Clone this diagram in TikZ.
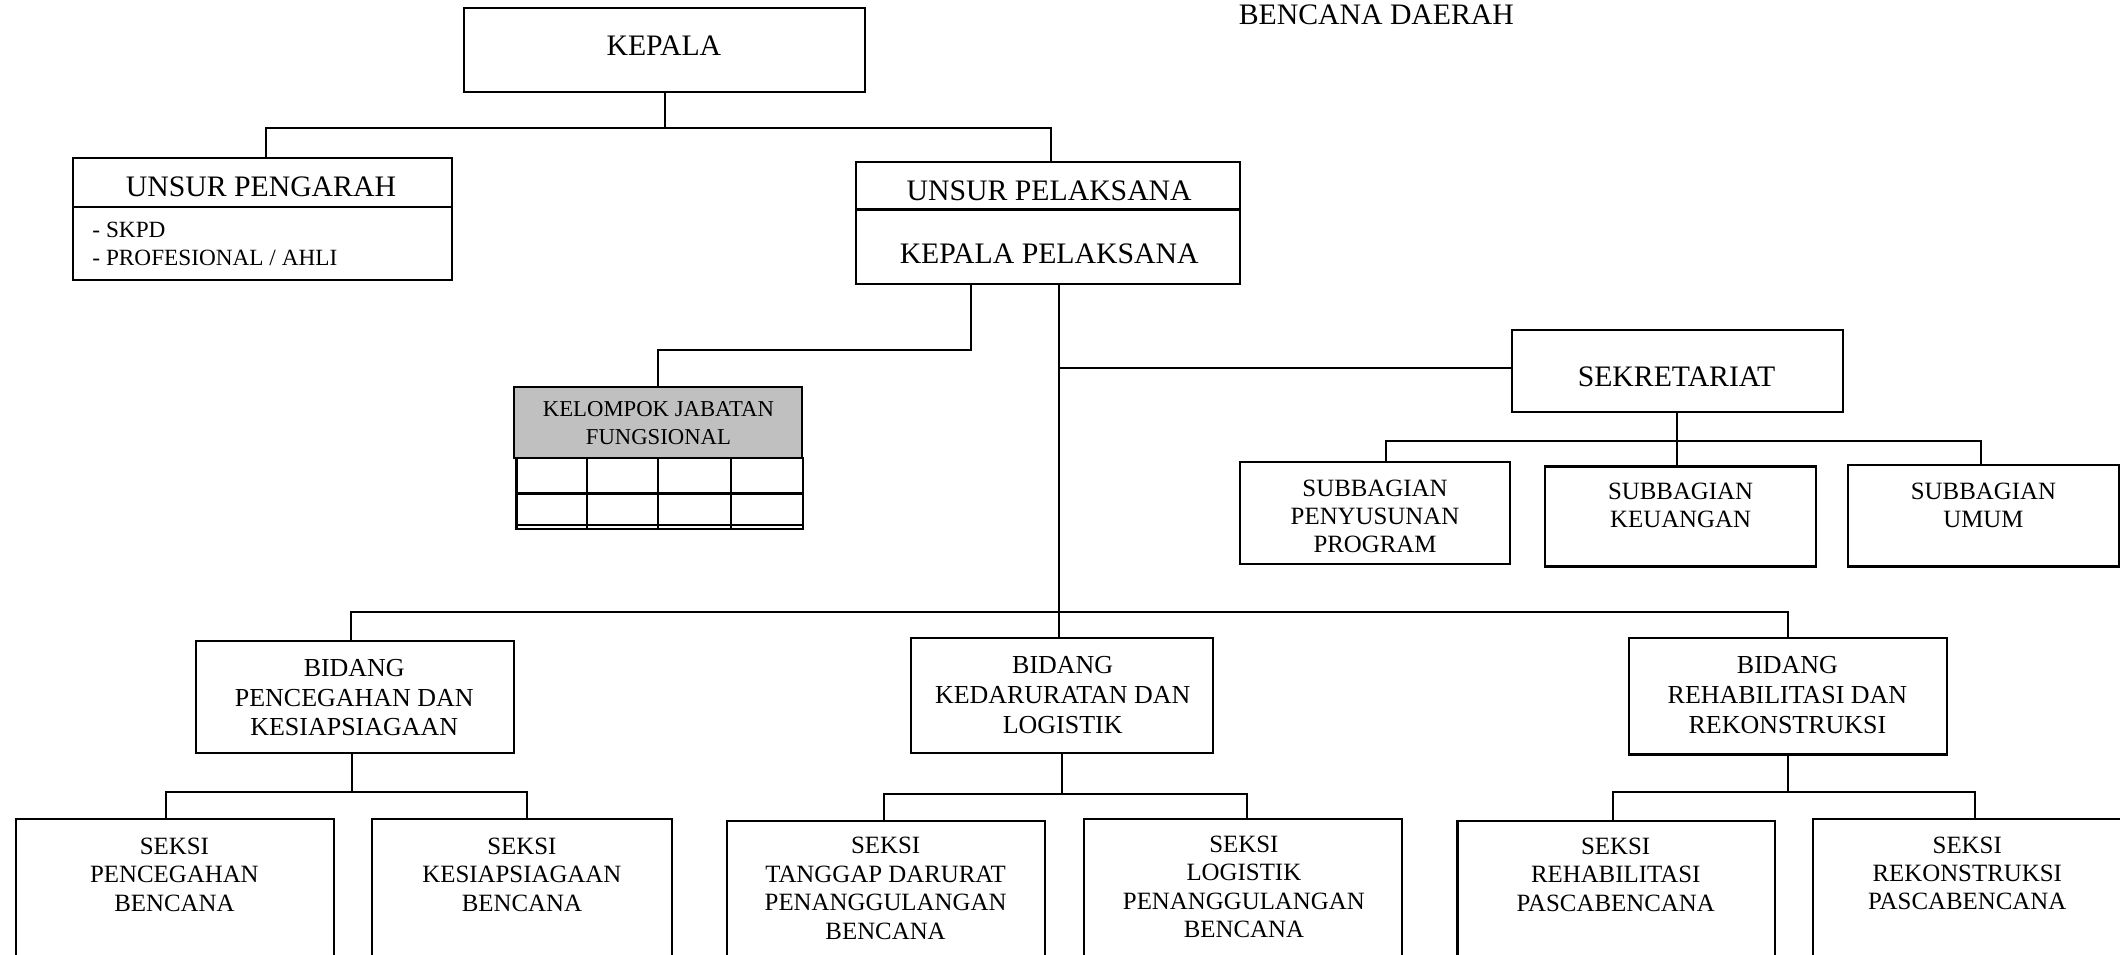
\documentclass[tikz,border=0pt]{standalone}
\usepackage{fontspec}
\setmainfont{Liberation Serif}
\usetikzlibrary{fit,calc}
\definecolor{kgray}{RGB}{192,192,192}
\begin{document}
\begin{tikzpicture}[x=0.5pt,y=-0.5pt,
  box/.style={draw, line width=0.8pt, inner sep=0pt, outer sep=0pt},
  conn/.style={line width=0.75pt},
  tbig/.style={font=\fontsize{11}{13}\selectfont, inner sep=0pt, align=center},
  tmid/.style={font=\fontsize{9.6}{11}\selectfont, inner sep=0pt, align=center},
  tsek/.style={font=\fontsize{9.2}{10.5}\selectfont, inner sep=0pt, align=center},
  tkjf/.style={font=\fontsize{8.4}{10.5}\selectfont, inner sep=0pt, align=center},
  tsmall/.style={font=\fontsize{8.6}{10.5}\selectfont, inner sep=0pt, align=left}]
\fill[white] (0,0) rectangle (1568,706);
\useasboundingbox (0,0) rectangle (1568,706);

% title fragment
\node[tbig] (judul) at (1018,11) {BENCANA DAERAH};

% KEPALA
\node[box, fit={(343,6) (640,68)}] (kepala) {};
\node[tbig] (tkepala) at (491,34) {KEPALA};

% UNSUR PENGARAH
\node[box, fit={(54,117) (334,207)}] (pengarah) {};
\draw[line width=0.8pt] (54,153) -- (334,153);
\node[tbig] (tpengarah) at (193,138) {UNSUR PENGARAH};
\node[tsmall, anchor=west] (skpd) at (68,170) {- SKPD};
\node[tsmall, anchor=west] (prof) at (68,191) {- PROFESIONAL / AHLI};

% UNSUR PELAKSANA
\node[box, fit={(633,120) (917,210)}] (pelaksana) {};
\draw[line width=0.8pt] (633,155) -- (917,155);
\node[tbig] (tunsur) at (776,141) {UNSUR PELAKSANA};
\node[tbig] (tkpel) at (776,188) {KEPALA PELAKSANA};

% KELOMPOK JABATAN FUNGSIONAL
\node[box, fill=kgray, fit={(380,286) (593,339)}] (kjf) {};
\node[tkjf] (tkjf) at (487,313) {KELOMPOK JABATAN\\FUNGSIONAL};
\draw[conn] (382,339) rectangle (594,391);
\draw[conn] (382,365) -- (594,365);
\draw[conn] (382,388) -- (594,388);
\draw[conn] (434,339) -- (434,391);
\draw[conn] (487,339) -- (487,391);
\draw[conn] (541,339) -- (541,391);

% SEKRETARIAT
\node[box, fit={(1118,244) (1363,305)}] (sek) {};
\node[tbig] (tsek) at (1240,279) {SEKRETARIAT};
\node[box, fit={(917,342) (1117,417)}] (sub1) {};
\node[tsek] (tsub1) at (1017,382) {SUBBAGIAN\\PENYUSUNAN\\PROGRAM};
\node[box, fit={(1143,345) (1343,419)}] (sub2) {};
\node[tsek] (tsub2) at (1243,374) {SUBBAGIAN\\KEUANGAN};
\node[box, fit={(1367,344) (1567,419)}] (sub3) {};
\node[tsek] (tsub3) at (1467,374) {SUBBAGIAN\\UMUM};

% BIDANG
\node[box, fit={(145,474) (380,557)}] (bid1) {};
\node[tmid] (tbid1) at (262,516) {BIDANG\\PENCEGAHAN DAN\\KESIAPSIAGAAN};
\node[box, fit={(674,472) (897,557)}] (bid2) {};
\node[tmid] (tbid2) at (786,514) {BIDANG\\KEDARURATAN DAN\\LOGISTIK};
\node[box, fit={(1205,472) (1440,558)}] (bid3) {};
\node[tmid] (tbid3) at (1322,514) {BIDANG\\REHABILITASI DAN\\REKONSTRUKSI};

% SEKSI
\node[box, fit={(12,606) (247,730)}] (s1) {};
\node[tsek] (ts1) at (129,647) {SEKSI\\PENCEGAHAN\\BENCANA};
\node[box, fit={(275,606) (497,730)}] (s2) {};
\node[tsek] (ts2) at (386,647) {SEKSI\\KESIAPSIAGAAN\\BENCANA};
\node[box, fit={(538,607) (773,730)}] (s3) {};
\node[tsek] (ts3) at (655,657) {SEKSI\\TANGGAP DARURAT\\PENANGGULANGAN\\BENCANA};
\node[box, fit={(802,606) (1037,730)}] (s4) {};
\node[tsek] (ts4) at (920,656) {SEKSI\\LOGISTIK\\PENANGGULANGAN\\BENCANA};
\node[box, fit={(1078,607) (1313,730)}] (s5) {};
\node[tsek] (ts5) at (1195,647) {SEKSI\\REHABILITASI\\PASCABENCANA};
\node[box, fit={(1341,606) (1580,730)}] (s6) {};
\node[tsek] (ts6) at (1455,646) {SEKSI\\REKONSTRUKSI\\PASCABENCANA};

% connectors
\draw[conn] (kepala.south) -- ++(0,27) coordinate (b0);
\draw[conn] ($(pengarah.north)+(3,0)$) -- ($(pengarah.north |- b0)+(3,0)$) -| ($(pelaksana.north)+(2,0)$);
\draw[conn] ($(pelaksana.south)+(-57,0)$) -- ++(0,49) -| (kjf.north);
\coordinate (tr) at ($(pelaksana.south)+(8,0)$);
\draw[conn] (tr) -- (tr |- bid2.north);
\draw[conn] ($(sek.west)+(0,-2.5)$) -- ($(sek.west -| tr)+(0,-2.5)$);
\draw[conn] ($(bid1.north)+(-3,0)$) -- ++(0,-21) -| (bid3.north);
\draw[conn] (sek.south) -- (sek.south |- sub2.north);
\draw[conn] ($(sub1.north)+(8,0)$) -- ++(0,-16) -| ($(sub3.north)+(-2,0)$);
\draw[conn] ($(bid1.south)+(-2,0)$) -- ++(0,29);
\draw[conn] ($(s1.north)+(-7,0)$) -- ++(0,-20) -| ($(s2.north)+(4,0)$);
\draw[conn] (bid2.south) -- ++(0,30);
\draw[conn] ($(s3.north)+(-1.5,0)$) -- ++(0,-20) -| ($(s4.north)+(2.5,0)$);
\draw[conn] (bid3.south) -- ++(0,28);
\draw[conn] ($(s5.north)+(-2.5,0)$) -- ++(0,-21) -| (s6.north);
\end{tikzpicture}
\end{document}
